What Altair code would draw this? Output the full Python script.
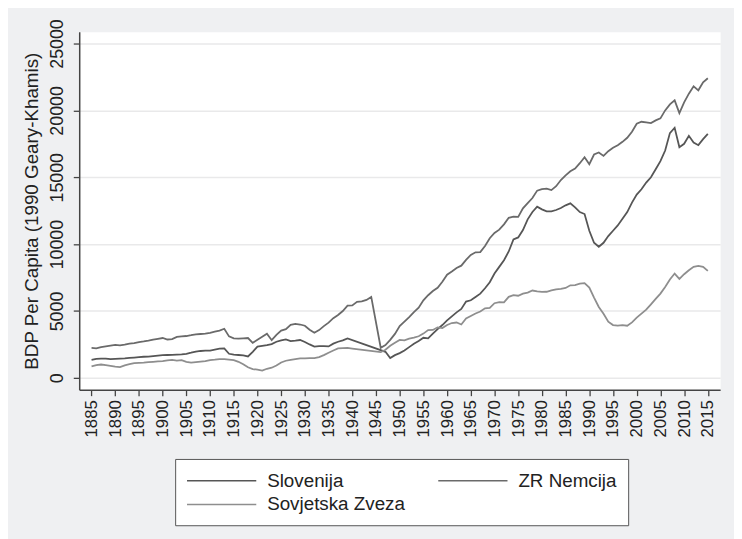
import altair as alt
import pandas as pd

years = list(range(1885, 2016))

slovenija = [
    1350, 1420, 1440, 1440, 1400, 1420, 1440, 1460, 1490, 1520,   # 1885-1894
    1550, 1580, 1590, 1630, 1670, 1700, 1710, 1720, 1740, 1760,   # 1895-1904
    1800, 1880, 1970, 2010, 2030, 2040, 2120, 2180, 2200, 1800,   # 1905-1914
    1730, 1710, 1680, 1600, 1950, 2340, 2400, 2450, 2520, 2700,   # 1915-1924
    2800, 2880, 2750, 2780, 2830, 2680, 2500, 2340, 2380, 2380,   # 1925-1934
    2350, 2560, 2700, 2800, 2950, None, None, None, None, None,   # 1935-1944
    None, None, 1950, 1480, 1700, 1850, 2050, 2300, 2550, 2750,   # 1945-1954
    3000, 2950, 3300, 3650, 3950, 4300, 4600, 4900, 5150, 5700,   # 1955-1964
    5800, 6050, 6300, 6700, 7150, 7800, 8300, 8800, 9450, 10350,  # 1965-1974
    10500, 11050, 11850, 12400, 12800, 12600, 12450, 12450, 12550, 12700,  # 1975-1984
    12900, 13050, 12750, 12400, 12250, 11000, 10100, 9800, 10100, 10600,   # 1985-1994
    11000, 11400, 11900, 12400, 13100, 13700, 14100, 14600, 15000, 15600,  # 1995-2004
    16200, 17000, 18300, 18700, 17250, 17500, 18100, 17600, 17400, 17850,  # 2005-2014
    18250,                                                                  # 2015
]

zr_nemcija = [
    2240, 2210, 2300, 2360, 2410, 2460, 2430, 2480, 2560, 2600,   # 1885-1894
    2680, 2720, 2780, 2860, 2920, 2980, 2870, 2900, 3060, 3100,   # 1895-1904
    3130, 3190, 3260, 3280, 3300, 3370, 3450, 3530, 3670, 3100,   # 1905-1914
    2950, 2930, 2960, 2980, 2620, 2850, 3070, 3300, 2820, 3220,   # 1915-1924
    3540, 3640, 3960, 4030, 3990, 3900, 3600, 3370, 3570, 3870,   # 1925-1934
    4130, 4460, 4700, 5000, 5400, 5420, 5680, 5720, 5830, 6050,   # 1935-1944
    None, 2250, 2450, 2840, 3290, 3880, 4210, 4550, 4910, 5250,   # 1945-1954
    5800, 6180, 6490, 6740, 7180, 7710, 7950, 8220, 8390, 8820,   # 1955-1964
    9190, 9390, 9400, 9860, 10440, 10840, 11080, 11480, 11970, 12060,  # 1965-1974
    12040, 12680, 13070, 13450, 14000, 14110, 14150, 14040, 14330, 14790,  # 1975-1984
    15140, 15450, 15650, 16050, 16500, 15980, 16700, 16850, 16600, 16950,  # 1985-1994
    17200, 17400, 17650, 17950, 18400, 19000, 19150, 19100, 19050, 19250,  # 1995-2004
    19400, 20000, 20450, 20750, 19800, 20600, 21250, 21800, 21500, 22100,  # 2005-2014
    22400,                                                                  # 2015
]

sovjetska_zveza = [
    860, 960, 1000, 950, 900, 840, 800, 940, 1030, 1100,          # 1885-1894
    1120, 1140, 1170, 1200, 1230, 1260, 1300, 1340, 1290, 1330,   # 1895-1904
    1200, 1140, 1180, 1220, 1260, 1330, 1360, 1400, 1400, 1370,   # 1905-1914
    1320, 1200, 1020, 790, 660, 610, 540, 680, 760, 920,          # 1915-1924
    1150, 1280, 1350, 1400, 1450, 1450, 1470, 1480, 1550, 1700,   # 1925-1934
    1880, 2050, 2200, 2230, 2240, 2190, None, None, None, None,   # 1935-1944
    None, 1920, 2100, 2400, 2620, 2840, 2810, 2940, 3010, 3110,   # 1945-1954
    3310, 3570, 3580, 3780, 3720, 3950, 4100, 4140, 3990, 4440,   # 1955-1964
    4630, 4810, 4960, 5200, 5230, 5580, 5670, 5640, 6060, 6180,   # 1965-1974
    6140, 6300, 6380, 6530, 6460, 6430, 6440, 6540, 6620, 6650,   # 1975-1984
    6720, 6920, 6940, 7040, 7080, 6750, 6000, 5300, 4800, 4200,   # 1985-1994
    3950, 3900, 3950, 3900, 4150, 4500, 4800, 5100, 5500, 5900,   # 1995-2004
    6300, 6800, 7350, 7800, 7400, 7750, 8050, 8300, 8380, 8300,   # 2005-2014
    8000,                                                          # 2015
]

countries = ["Slovenija", "ZR Nemcija", "Sovjetska Zveza"]
colors = ["#565656", "#6a6a6a", "#8e8e8e"]
x_ticks = list(range(1885, 2016, 5))
y_ticks = [0, 5000, 10000, 15000, 20000, 25000]

rows = []
for name, series in zip(countries, [slovenija, zr_nemcija, sovjetska_zveza]):
    for yr, v in zip(years, series):
        if v is not None:
            rows.append({"year": yr, "value": v, "country": name})
df = pd.DataFrame(rows)

FONT = "Liberation Sans"

chart = (
    alt.Chart(df)
    .mark_line(strokeWidth=1.8)
    .encode(
        x=alt.X(
            "year:Q",
            title=None,
            scale=alt.Scale(domain=[1882.4, 2017.6], nice=False, zero=False),
            axis=alt.Axis(
                values=x_ticks,
                format="d",
                labelAngle=270,
                labelAlign="right",
                labelBaseline="middle",
                labelFontSize=17,
                labelPadding=4,
                labelOverlap=False,
                labelFlush=False,
                tickSize=6,
                grid=False,
            ),
        ),
        y=alt.Y(
            "value:Q",
            scale=alt.Scale(domain=[-886, 25886], nice=False, zero=False),
            axis=alt.Axis(
                title="BDP Per Capita (1990 Geary-Khamis)",
                values=y_ticks,
                format="d",
                labelAngle=270,
                labelAlign="center",
                labelBaseline="alphabetic",
                labelFontSize=18,
                labelPadding=11,
                labelOverlap=False,
                labelFlush=False,
                tickSize=6,
                grid=True,
                gridColor="#e9e9ea",
                gridWidth=1.5,
                titleFontSize=19,
                titleFontWeight="normal",
                titleAngle=270,
                titleAlign="center",
                titleBaseline="alphabetic",
                titleX=-42,
                titleY=181,
            ),
        ),
        color=alt.Color(
            "country:N",
            scale=alt.Scale(domain=countries, range=colors),
            sort=countries,
            legend=alt.Legend(
                title=None,
                orient="none",
                legendX=97,
                legendY=432,
                direction="horizontal",
                columns=2,
                symbolType="M-3.5,0H3.5",
                symbolSize=400,
                symbolOffset=25,
                symbolStrokeWidth=1.6,
                labelFontSize=19,
                labelOffset=35,
                labelLimit=400,
                columnPadding=29,
                rowPadding=3,
                padding=11,
                strokeColor="#555555",
                fillColor="white",
            ),
        ),
        detail="country:N",
    )
    .properties(
        width=648,
        height=362,
        padding={"left": 72, "top": 21, "right": 14, "bottom": 148},
        autosize=alt.AutoSizeParams(type="none"),
        background="#eff0f2",
    )
    .configure(font=FONT)
    .configure_view(fill="white", stroke="transparent")
    .configure_axis(
        labelFont=FONT,
        titleFont=FONT,
        labelColor="#222222",
        titleColor="#222222",
        domainColor="#444444",
        domainWidth=1.5,
        tickColor="#444444",
        tickWidth=1.3,
    )
    .configure_legend(labelFont=FONT, labelColor="#222222")
)

chart.save("out.html", embed_options={"renderer": "svg", "actions": False})
